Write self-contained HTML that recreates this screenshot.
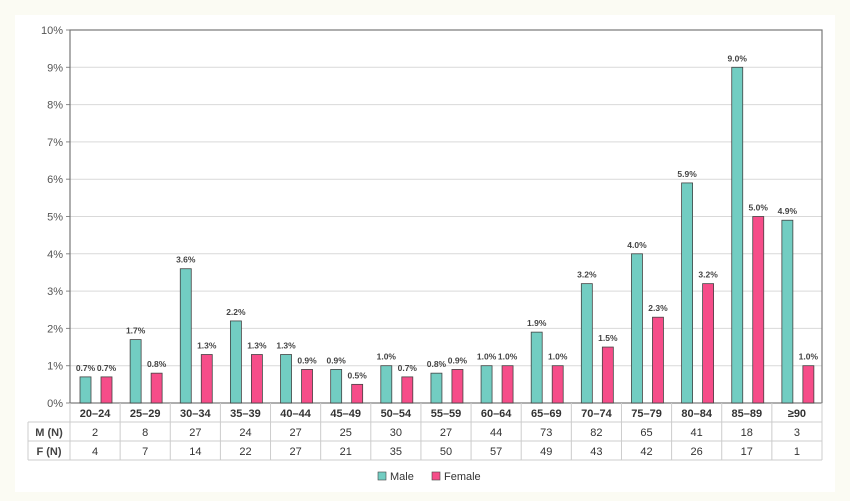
<!DOCTYPE html>
<html><head><meta charset="utf-8"><style>
body{margin:0;background:#fbfbf3;font-family:"Liberation Sans",sans-serif;}
svg{display:block}
</style></head><body>
<svg width="850" height="501">
<rect x="15" y="15" width="820" height="477" fill="#fff"/>
<g id="g"></g>
</svg>
<script>
const categories=["20–24","25–29","30–34","35–39","40–44","45–49","50–54","55–59","60–64","65–69","70–74","75–79","80–84","85–89","≥90"];
const male=[0.7,1.7,3.6,2.2,1.3,0.9,1.0,0.8,1.0,1.9,3.2,4.0,5.9,9.0,4.9];
const female=[0.7,0.8,1.3,1.3,0.9,0.5,0.7,0.9,1.0,1.0,1.5,2.3,3.2,5.0,1.0];
const maleN=[2,8,27,24,27,25,30,27,44,73,82,65,41,18,3];
const femaleN=[4,7,14,22,27,21,35,50,57,49,43,42,26,17,1];
const yTicks=[0,1,2,3,4,5,6,7,8,9,10];
const X0=70,X1=822,Y0=403,Y1=30;
const cw=(X1-X0)/categories.length;
const y=v=>Y0-(v/10)*(Y0-Y1);
const xc=i=>X0+i*cw;
const g=document.getElementById('g');
const NS='http://www.w3.org/2000/svg';
function el(t,a,txt){const e=document.createElementNS(NS,t);for(const k in a)e.setAttribute(k,a[k]);if(txt!==undefined)e.textContent=txt;g.appendChild(e);return e;}
yTicks.forEach(t=>{
 let l=el('line',{x1:X0,x2:X1,y1:y(t),y2:y(t),stroke:'#d9d9d9','stroke-width':1});
 
 
 let tk=el('line',{x1:X0-4,x2:X0,y1:y(t),y2:y(t),stroke:'#888'});
 
 
 let tx=el('text',{x:X0-7,y:y(t)+4,'text-anchor':'end','font-size':11,fill:'#555'},t+'%');
 
 
});
let box=el('rect',{x:X0,y:Y1,width:X1-X0,height:Y0-Y1,fill:'none',stroke:'#777','stroke-width':1.2});


categories.forEach((c,i)=>{
 const bx=xc(i);
 [[male[i],10,'#72cdc2','male'],[female[i],31,'#f64d89','female']].forEach(([v,off,col,nm])=>{
  let r=el('rect',{x:bx+off,y:y(v),width:11,height:Y0-y(v),fill:col,stroke:'#444','stroke-width':0.8});
  
  
  let t=el('text',{x:bx+off+5.5,y:y(v)-6,'text-anchor':'middle','font-size':8.5,'font-weight':'bold',fill:'#444'},v.toFixed(1)+'%');
  
  
 });
 let ct=el('text',{x:bx+cw/2,y:417,'text-anchor':'middle','font-size':11,'font-weight':'bold',fill:'#333'},c);
 
 
 let m=el('text',{x:bx+cw/2,y:436,'text-anchor':'middle','font-size':11,fill:'#333'},maleN[i]);
 
 
 let f=el('text',{x:bx+cw/2,y:455,'text-anchor':'middle','font-size':11,fill:'#333'},femaleN[i]);
 
 
 let vl=el('line',{x1:bx,x2:bx,y1:Y0,y2:460,stroke:'#ccc'});
 
 
});
[[X1,X1,Y0,460],[28,28,422,460],[28,X1,422,422],[28,X1,441,441],[28,X1,460,460]].forEach(a=>{
 let l=el('line',{x1:a[0],x2:a[1],y1:a[2],y2:a[3],stroke:'#ccc'});
 
 
});
let r1=el('text',{x:49,y:436,'text-anchor':'middle','font-size':11,'font-weight':'bold',fill:'#444'},'M (N)');


let r2=el('text',{x:49,y:455,'text-anchor':'middle','font-size':11,'font-weight':'bold',fill:'#444'},'F (N)');


[['Male',378,'#72cdc2'],['Female',432,'#f64d89']].forEach(([n,x,c])=>{
 let r=el('rect',{x:x,y:472,width:8,height:8,fill:c,stroke:'#444','stroke-width':0.6});
 
 
 let t=el('text',{x:x+12,y:480,'font-size':11,fill:'#333'},n);
 
 
});
</script>
</body></html>
